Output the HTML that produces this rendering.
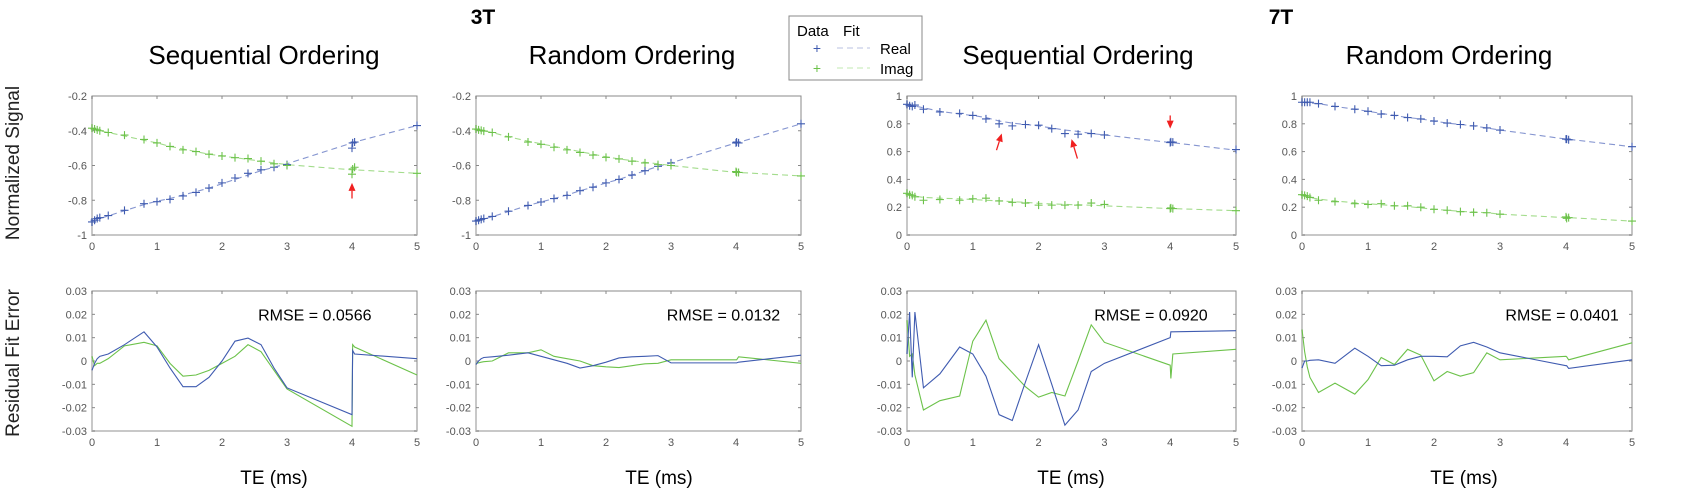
<!DOCTYPE html>
<html><head><meta charset="utf-8">
<style>
html,body{margin:0;padding:0;background:#fff;}
svg{display:block;font-family:"Liberation Sans",sans-serif;}
</style></head>
<body>
<svg id="fig" width="1696" height="490" viewBox="0 0 1696 490">
  <text x="483" y="24" font-size="21" font-weight="bold" text-anchor="middle">3T</text>
  <text x="1281" y="24" font-size="21" font-weight="bold" text-anchor="middle">7T</text>
  <text transform="translate(19,163) rotate(-90)" font-size="19" text-anchor="middle" fill="#222">Normalized Signal</text>
  <text transform="translate(19,363) rotate(-90)" font-size="19" text-anchor="middle" fill="#222">Residual Fit Error</text>
  <g>
    <rect x="789" y="16" width="133" height="64" fill="#fff" stroke="#888" stroke-width="1"/>
    <text x="797" y="36" font-size="15">Data</text>
    <text x="843" y="36" font-size="15">Fit</text>
    <text x="817" y="53" font-size="14" fill="#3f5bb0" text-anchor="middle">+</text>
    <line x1="837" y1="48" x2="870" y2="48" stroke="#b8c0e0" stroke-dasharray="6,4"/>
    <text x="880" y="54" font-size="15">Real</text>
    <text x="817" y="73" font-size="14" fill="#6cc24a" text-anchor="middle">+</text>
    <line x1="837" y1="68" x2="870" y2="68" stroke="#c0e8b0" stroke-dasharray="6,4"/>
    <text x="880" y="74" font-size="15">Imag</text>
  </g>
</svg>
<script>
const TE = [0,0.04,0.08,0.12,0.25,0.5,0.8,1.0,1.2,1.4,1.6,1.8,2.0,2.2,2.4,2.6,2.8,3.0,4.0,4.01,4.04,5.0];
const xTicks = [0,1,2,3,4,5];
const resTicks = [-0.03,-0.02,-0.01,0,0.01,0.02,0.03];
const resTickLabels = ["-0.03","-0.02","-0.01","0","0.01","0.02","0.03"];
const titles = ["Sequential Ordering","Random Ordering","Sequential Ordering","Random Ordering"];
const rmseLabels = ["RMSE = 0.0566","RMSE = 0.0132","RMSE = 0.0920","RMSE = 0.0401"];
const rmseAnchorTE = [4.3,4.68,4.57,4.8];

const p1RealFit = [-0.92,-0.915,-0.91,-0.905,-0.89,-0.86,-0.825,-0.805,-0.79,-0.77,-0.75,-0.73,-0.705,-0.68,-0.655,-0.63,-0.61,-0.59,-0.47,-0.47,-0.465,-0.37];
const p1RealData = [-0.925,-0.915,-0.905,-0.9,-0.888,-0.858,-0.82,-0.808,-0.795,-0.775,-0.755,-0.73,-0.7,-0.672,-0.645,-0.625,-0.61,-0.595,-0.50,-0.47,-0.465,-0.37];
const p1ImagFit = [-0.39,-0.393,-0.396,-0.4,-0.41,-0.43,-0.455,-0.47,-0.49,-0.505,-0.52,-0.535,-0.545,-0.555,-0.565,-0.575,-0.585,-0.595,-0.625,-0.625,-0.625,-0.645];
const p1ImagData = [-0.385,-0.39,-0.395,-0.4,-0.41,-0.425,-0.45,-0.47,-0.49,-0.51,-0.52,-0.535,-0.545,-0.555,-0.56,-0.575,-0.59,-0.6,-0.65,-0.62,-0.61,-0.645];
const p1RealRes = [-0.004,-0.001,0.001,0.002,0.003,0.007,0.0125,0.006,-0.003,-0.011,-0.011,-0.007,0.0,0.0085,0.0098,0.007,-0.003,-0.0115,-0.023,0.0045,0.003,0.001];
const p1ImagRes = [0.002,-0.002,-0.001,-0.001,0.001,0.0065,0.008,0.0065,-0.001,-0.0065,-0.006,-0.004,-0.001,0.002,0.007,0.004,-0.004,-0.012,-0.028,0.007,0.006,-0.006];

const p2RealFit = [-0.92,-0.916,-0.912,-0.908,-0.895,-0.865,-0.83,-0.81,-0.79,-0.77,-0.745,-0.725,-0.70,-0.68,-0.655,-0.63,-0.605,-0.585,-0.47,-0.47,-0.467,-0.36];
const p2RealData = [-0.92,-0.915,-0.91,-0.905,-0.893,-0.863,-0.83,-0.81,-0.79,-0.772,-0.745,-0.725,-0.70,-0.68,-0.655,-0.63,-0.605,-0.585,-0.47,-0.465,-0.47,-0.36];
const p2ImagFit = [-0.39,-0.393,-0.397,-0.4,-0.41,-0.435,-0.46,-0.475,-0.49,-0.505,-0.52,-0.535,-0.55,-0.562,-0.572,-0.582,-0.59,-0.6,-0.64,-0.64,-0.64,-0.66];
const p2ImagData = [-0.39,-0.395,-0.398,-0.402,-0.41,-0.435,-0.465,-0.478,-0.495,-0.51,-0.525,-0.54,-0.553,-0.562,-0.575,-0.585,-0.595,-0.6,-0.635,-0.64,-0.64,-0.66];
const p2RealRes = [-0.0015,0,0.001,0.0015,0.0018,0.0025,0.0035,0.002,0.0005,-0.001,-0.003,-0.002,-0.0005,0.0013,0.0018,0.002,0.0023,-0.0008,-0.0008,-0.0008,-0.0005,0.0025];
const p2ImagRes = [-0.001,-0.0008,-0.0005,-0.0003,0,0.0035,0.0035,0.0048,0.002,0.001,0,-0.002,-0.0025,-0.0028,-0.002,-0.0012,-0.001,0.0005,0.0005,0.0005,0.0018,-0.001];

const p3RealFit = [0.94,0.936,0.932,0.928,0.915,0.89,0.87,0.86,0.845,0.82,0.805,0.795,0.785,0.77,0.755,0.745,0.73,0.72,0.665,0.665,0.664,0.61];
const p3RealData = [0.94,0.93,0.925,0.935,0.905,0.885,0.875,0.86,0.835,0.80,0.785,0.795,0.79,0.765,0.73,0.725,0.73,0.72,0.665,0.67,0.668,0.615];
const p3ImagFit = [0.295,0.29,0.285,0.28,0.27,0.265,0.26,0.255,0.25,0.245,0.24,0.235,0.228,0.224,0.22,0.217,0.214,0.21,0.19,0.19,0.19,0.175];
const p3ImagData = [0.30,0.29,0.285,0.275,0.25,0.255,0.25,0.26,0.265,0.245,0.235,0.23,0.215,0.215,0.215,0.215,0.23,0.22,0.19,0.195,0.19,0.175];
const p3RealRes = [0.003,0.021,-0.007,0.021,-0.0115,-0.0055,0.006,0.003,-0.0065,-0.023,-0.0255,-0.009,0.007,-0.01,-0.0275,-0.021,-0.0045,-0.001,0.01,0.0125,0.0125,0.013];
const p3ImagRes = [0.0175,0.002,0.003,-0.006,-0.021,-0.017,-0.015,0.0085,0.0175,0.001,-0.005,-0.011,-0.0155,-0.0135,-0.015,0.0,0.0155,0.008,-0.0018,-0.0075,0.003,0.005];

const p4RealFit = [0.955,0.953,0.951,0.949,0.945,0.925,0.905,0.89,0.875,0.86,0.845,0.835,0.82,0.805,0.795,0.785,0.77,0.755,0.69,0.69,0.689,0.635];
const p4RealData = [0.955,0.955,0.955,0.955,0.945,0.925,0.905,0.89,0.87,0.86,0.845,0.835,0.82,0.805,0.795,0.785,0.77,0.755,0.69,0.69,0.685,0.635];
const p4ImagFit = [0.285,0.28,0.275,0.27,0.258,0.245,0.232,0.225,0.218,0.21,0.205,0.195,0.185,0.178,0.17,0.165,0.16,0.15,0.125,0.125,0.125,0.10];
const p4ImagData = [0.29,0.285,0.28,0.27,0.25,0.24,0.225,0.22,0.225,0.21,0.21,0.2,0.185,0.178,0.168,0.163,0.16,0.15,0.13,0.12,0.125,0.10];
const p4RealRes = [-0.003,0,0,0.0003,0.0005,-0.001,0.0055,0.002,-0.002,-0.0018,0.0005,0.002,0.002,0.0018,0.0065,0.008,0.006,0.0035,-0.002,-0.002,-0.0032,0.0005];
const p4ImagRes = [0.0135,0.004,-0.0025,-0.007,-0.0135,-0.0095,-0.0142,-0.008,0.0015,-0.0015,0.005,0.0025,-0.0085,-0.0045,-0.0065,-0.005,0.0035,0.0005,0.002,0.0018,0.0005,0.0078];

const topTicks3T = [-1,-0.8,-0.6,-0.4,-0.2];
const topTickLabels3T = ["-1","-0.8","-0.6","-0.4","-0.2"];
const topTicks7T = [0,0.2,0.4,0.6,0.8,1];
const topTickLabels7T = ["0","0.2","0.4","0.6","0.8","1"];

const panels = [
  {x0:92,x1:417,tx:264,lx:274,ymin:-1,ymax:-0.2,ticks:topTicks3T,labels:topTickLabels3T,rf:p1RealFit,rd:p1RealData,imf:p1ImagFit,imd:p1ImagData,rr:p1RealRes,ir:p1ImagRes},
  {x0:476,x1:801,tx:632,lx:659,ymin:-1,ymax:-0.2,ticks:topTicks3T,labels:topTickLabels3T,rf:p2RealFit,rd:p2RealData,imf:p2ImagFit,imd:p2ImagData,rr:p2RealRes,ir:p2ImagRes},
  {x0:907,x1:1236,tx:1078,lx:1071,ymin:0,ymax:1,ticks:topTicks7T,labels:topTickLabels7T,rf:p3RealFit,rd:p3RealData,imf:p3ImagFit,imd:p3ImagData,rr:p3RealRes,ir:p3ImagRes},
  {x0:1302,x1:1632,tx:1449,lx:1464,ymin:0,ymax:1,ticks:topTicks7T,labels:topTickLabels7T,rf:p4RealFit,rd:p4RealData,imf:p4ImagFit,imd:p4ImagData,rr:p4RealRes,ir:p4ImagRes}
];
const arrowPanel = [0,2,2,2];
const arrowTailTE = [4.0,1.36,2.59,4.0];
const arrowTailVal = [-0.79,0.61,0.55,0.86];
const arrowHeadTE = [4.0,1.44,2.5,4.0];
const arrowHeadVal = [-0.70,0.73,0.69,0.765];

const NS = "http://www.w3.org/2000/svg";
const svg = document.getElementById('fig');
const TOP_Y0 = 96, TOP_Y1 = 235, BOT_Y0 = 291, BOT_Y1 = 431;
const BLUE = "#3f5bb0", GREEN = "#6cc24a", BLUEF = "#8595d0", GREENF = "#a3dc8c";

function mk(tag, attrs, parent) {
  const e = document.createElementNS(NS, tag);
  for (const k in attrs) e.setAttribute(k, attrs[k]);
  (parent || svg).appendChild(e);
  return e;
}
function xs(p, t) { return p.x0 + (t / 5) * (p.x1 - p.x0); }
function ysTop(p, v) { return TOP_Y1 - (v - p.ymin) / (p.ymax - p.ymin) * (TOP_Y1 - TOP_Y0); }
function ysBot(v) { return BOT_Y1 - (v + 0.03) / 0.06 * (BOT_Y1 - BOT_Y0); }

function drawAxes(p, y0, y1, ticks, labels, yfn, idx, kind) {
  const g = mk('g', {});
  
  
  const box = mk('rect', {x: p.x0, y: y0, width: p.x1 - p.x0, height: y1 - y0, fill: 'none', stroke: '#888', 'stroke-width': 1}, g);
  
  
  const bl = mk('path', {d: `M${p.x0},${y0} L${p.x0},${y1} L${p.x1},${y1}`, fill: 'none', stroke: '#c8c8c8', 'stroke-width': 2}, g);
  
  
  ticks.forEach((v, i) => {
    const y = yfn(v);
    mk('line', {x1: p.x0, x2: p.x0 + 3, y1: y, y2: y, stroke: '#888'}, g);
    mk('line', {x1: p.x1, x2: p.x1 - 3, y1: y, y2: y, stroke: '#888'}, g);
    const t = mk('text', {x: p.x0 - 5, y: y + 4, 'font-size': 11, fill: '#555', 'text-anchor': 'end'}, g);
    t.textContent = labels[i];
    
    
  });
  xTicks.forEach(v => {
    const x = xs(p, v);
    mk('line', {x1: x, x2: x, y1: y0, y2: y0 + 3, stroke: '#888'}, g);
    const t = mk('text', {x: x, y: y1 + 15, 'font-size': 11, fill: '#555', 'text-anchor': 'middle'}, g);
    t.textContent = String(v);
    
    
  });
}
function polyline(pts, color, dash, name) {
  const l = mk('polyline', {points: pts.join(' '), fill: 'none', stroke: color, 'stroke-width': 1.1});
  if (dash) l.setAttribute('stroke-dasharray', dash);
  
  
}
function crosses(p, data, color, name) {
  const g = mk('g', {stroke: color, 'stroke-width': 1.1});
  
  
  data.forEach((v, i) => {
    const x = xs(p, TE[i]), y = ysTop(p, v);
    mk('path', {d: `M${x - 4},${y} L${x + 4},${y} M${x},${y - 4} L${x},${y + 4}`}, g);
  });
}

panels.forEach((p, i) => {
  const tt = mk('text', {x: p.tx, y: 64, 'font-size': 26, 'text-anchor': 'middle'});
  tt.textContent = titles[i];
  
  

  drawAxes(p, TOP_Y0, TOP_Y1, p.ticks, p.labels, v => ysTop(p, v), i, 'signal');
  polyline(TE.map((t, k) => xs(p, t) + ',' + ysTop(p, p.rf[k])), BLUEF, '6,4', 'real-fit-line');
  polyline(TE.map((t, k) => xs(p, t) + ',' + ysTop(p, p.imf[k])), GREENF, '6,4', 'imag-fit-line');
  crosses(p, p.rd, BLUE, 'real-data-points');
  crosses(p, p.imd, GREEN, 'imag-data-points');

  drawAxes(p, BOT_Y0, BOT_Y1, resTicks, resTickLabels, ysBot, i, 'residual');
  polyline(TE.map((t, k) => xs(p, t) + ',' + ysBot(p.ir[k])), GREEN, null, 'imag-residual-line');
  polyline(TE.map((t, k) => xs(p, t) + ',' + ysBot(p.rr[k])), BLUE, null, 'real-residual-line');

  const r = mk('text', {x: xs(p, rmseAnchorTE[i]), y: ysBot(0.02) + 6, 'font-size': 16, 'text-anchor': 'end'});
  r.textContent = rmseLabels[i];
  
  

  const xl = mk('text', {x: p.lx, y: 484, 'font-size': 19, 'text-anchor': 'middle'});
  xl.textContent = 'TE (ms)';
  
  
});

arrowPanel.forEach((pi, i) => {
  const p = panels[pi];
  const x1 = xs(p, arrowTailTE[i]), y1 = ysTop(p, arrowTailVal[i]);
  const x2 = xs(p, arrowHeadTE[i]), y2 = ysTop(p, arrowHeadVal[i]);
  const ang = Math.atan2(y2 - y1, x2 - x1);
  const L = 8, W = 3.5;
  const bx = x2 - L * Math.cos(ang), by = y2 - L * Math.sin(ang);
  const g = mk('g', {});
  
  
  mk('line', {x1: x1, y1: y1, x2: bx, y2: by, stroke: '#f02020', 'stroke-width': 1.3}, g);
  mk('polygon', {points: `${x2},${y2} ${bx - W * Math.sin(ang)},${by + W * Math.cos(ang)} ${bx + W * Math.sin(ang)},${by - W * Math.cos(ang)}`, fill: '#f02020'}, g);
});
</script>
</body></html>
